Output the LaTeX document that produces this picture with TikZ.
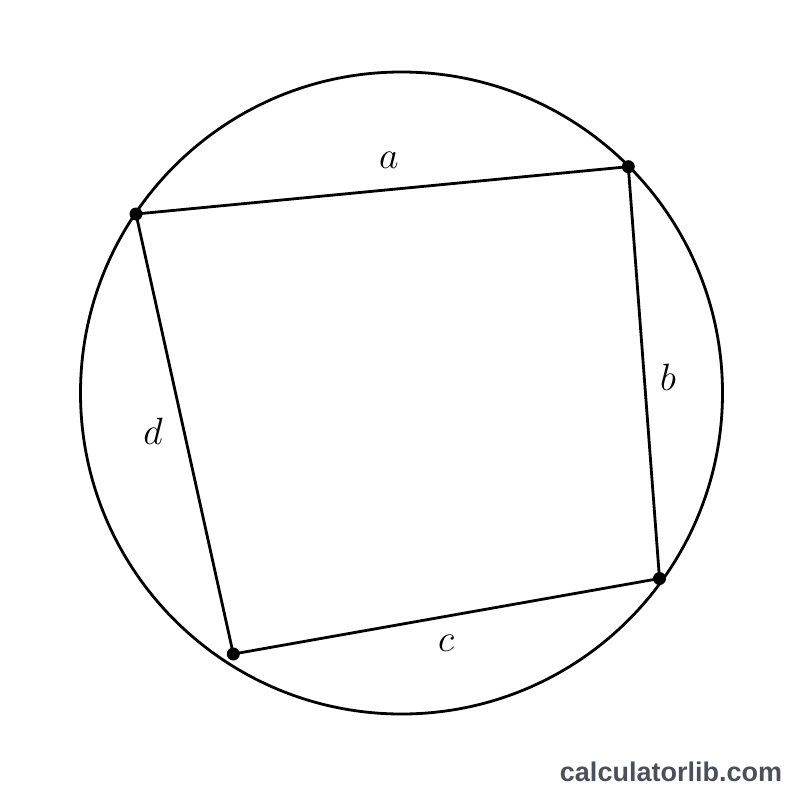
\RequirePackage{fix-cm}
\documentclass[tikz,border=0pt]{standalone}
\usepackage{fontspec}
\newfontfamily\wmfont{Liberation Sans}
\definecolor{wmgray}{RGB}{74,80,90}
\begin{document}
\begin{tikzpicture}[x=1pt,y=-1pt,line width=2.8pt,
		vertex/.style={fill=black},
		side/.style={font=\fontsize{38}{40}\selectfont}]
		\useasboundingbox (0,0) rectangle (800,800);
		%circle
		\draw (401.5,393) circle (321);
		%vertices
		\coordinate (A) at (136,214);
		\coordinate (B) at (628.3,166.7);
		\coordinate (C) at (659.5,578.5);
		\coordinate (D) at (233.3,654);
		%sides
		\draw (A) -- (B) -- (C) -- (D) -- cycle;
		\foreach \p in {A,B,C,D}
			\fill[vertex] (\p) circle (6.5);
		% labels
		\node[side] (la) at (389,160) {$a$};
		\node[side] (lb) at (668,377) {$b$};
		\node[side] (lc) at (446,643) {$c$};
		\node[side] (ld) at (153,431) {$d$};
		%watermark
		\node[font=\wmfont\bfseries\fontsize{27}{30}\selectfont,text=wmgray] (wm) at (671,772) {calculatorlib.com};
	\end{tikzpicture}
\end{document}
